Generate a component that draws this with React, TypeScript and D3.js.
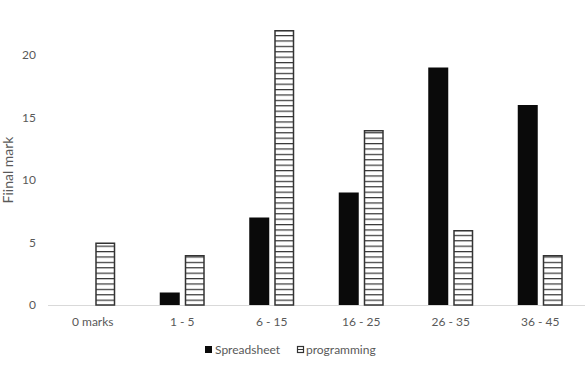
import React from "react";
import * as d3 from "d3";

const categories = ["0 marks", "1 - 5", "6 - 15", "16 - 25", "26 - 35", "36 - 45"];
const spreadsheet = [0, 1, 7, 9, 19, 16];
const programming = [5, 4, 22, 14, 6, 4];
const yTicks = [0, 5, 10, 15, 20];
const seriesNames = ["Spreadsheet", "programming"];

const W = 587, H = 366;
const left = 48, right = 585, top = 30, bottom = 305;

export default function App() {
  const x = d3.scaleBand<string>().domain(categories).range([left, right]);
  const y = d3.scaleLinear().domain([0, 22]).range([bottom, top]);
  const bw = 20, gap = 5;
  const font = "Lato, 'Open Sans', sans-serif";
  const grey = "#595959";
  return (
    <svg width={W} height={H} style={{ position: "absolute", left: 0, top: 0, background: "#fff" }}>
      <defs>
        <pattern id="hstripe" patternUnits="userSpaceOnUse" width={8} height={5.4} y={bottom}>
          <rect width={8} height={5.4} fill="#fff" />
          <line x1={0} x2={8} y1={0.6} y2={0.6} stroke="#333" strokeWidth={1.2} />
        </pattern>
      </defs>
      {yTicks.map((t) => (
        <text key={t} x={36} y={y(t)} dy="0.35em" textAnchor="end" fontFamily={font} fontSize={12} fill={grey}>
          {t}
        </text>
      ))}
      <text transform={`translate(13,170) rotate(-90)`} textAnchor="middle" fontFamily={font} fontSize={14} fill={grey}>
        Fiinal mark
      </text>
      <line x1={left} x2={right} y1={bottom + 0.5} y2={bottom + 0.5} stroke="#d9d9d9" strokeWidth={1} />
      {categories.map((c, i) => {
        const cx = (x(c) ?? 0) + x.bandwidth() / 2;
        const s = spreadsheet[i];
        const p = programming[i];
        return (
          <g key={c}>
            {s > 0 && (
              <rect x={cx - gap / 2 - bw} y={y(s)} width={bw} height={bottom - y(s)} fill="#0a0a0a" />
            )}
            <rect x={cx + gap / 2 + 0.75} y={y(p) + 0.75} width={bw - 1.5} height={bottom - y(p) - 0.75} fill="url(#hstripe)" stroke="#333" strokeWidth={1.5} />
            <text x={cx} y={326} textAnchor="middle" fontFamily={font} fontSize={12} fill={grey}>
              {c}
            </text>
          </g>
        );
      })}
      <g>
        <rect x={205} y={346} width={7} height={7} fill="#0a0a0a" />
        <text x={215} y={354} fontFamily={font} fontSize={12} fill={grey}>{seriesNames[0]}</text>
        <rect x={297.5} y={346.5} width={6} height={6} fill="#fff" stroke="#333" strokeWidth={1.2} />
        <line x1={297.5} x2={303.5} y1={349.5} y2={349.5} stroke="#333" strokeWidth={1} />
        <text x={306} y={354} fontFamily={font} fontSize={12} fill={grey}>{seriesNames[1]}</text>
      </g>
    </svg>
  );
}
